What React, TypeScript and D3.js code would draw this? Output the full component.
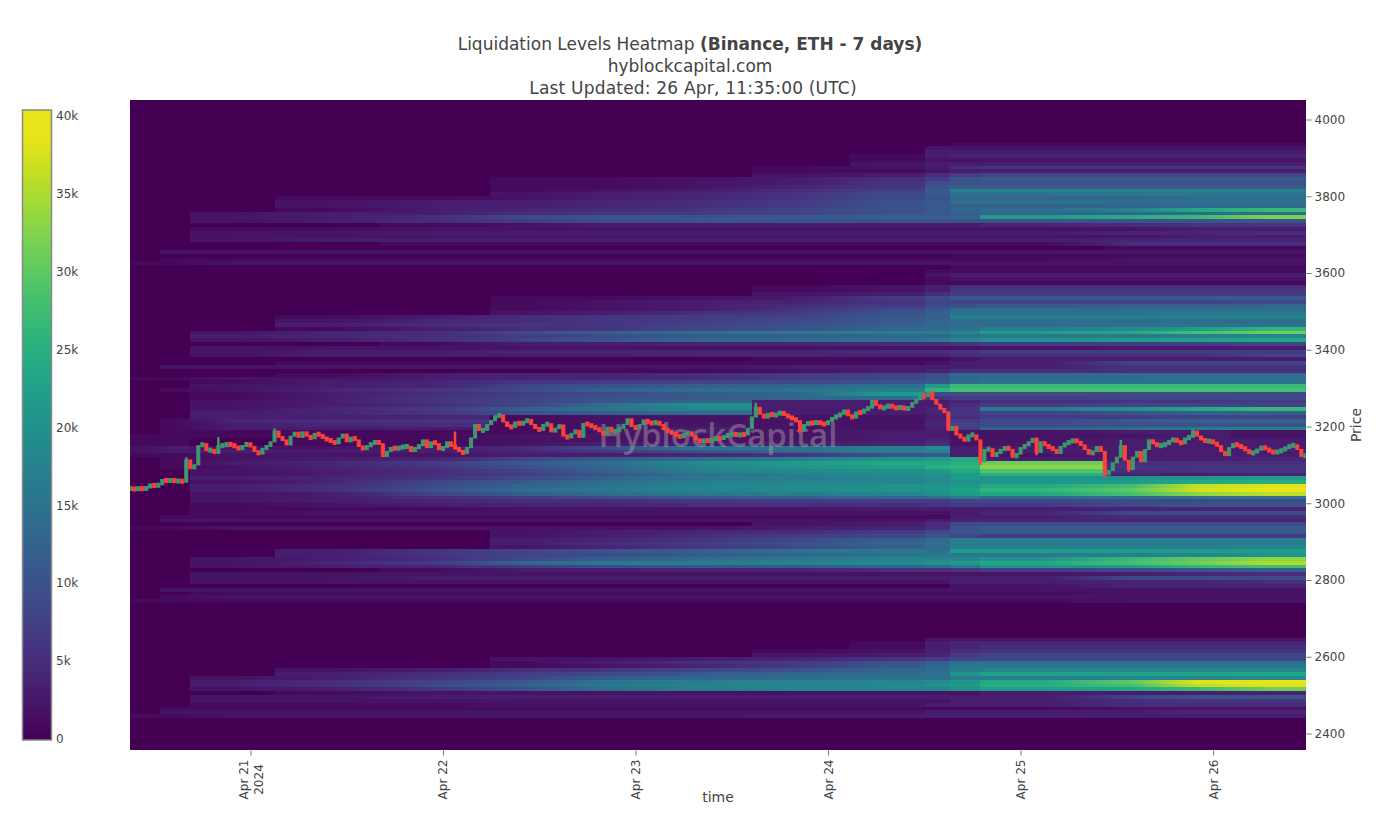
import React, { useEffect, useRef } from 'react'
import * as d3 from 'd3'

// heatmap column edges, the last one is the end of the chart
const timeEdges = [
  '2024-04-20T08:59Z', '2024-04-20T12:43Z', '2024-04-20T16:28Z', '2024-04-21T03:03Z',
  '2024-04-21T16:09Z', '2024-04-22T05:52Z', '2024-04-22T14:35Z', '2024-04-23T00:34Z',
  '2024-04-23T14:32Z', '2024-04-24T02:45Z', '2024-04-24T12:06Z', '2024-04-24T15:14Z',
  '2024-04-24T18:58Z', '2024-04-25T10:30Z', '2024-04-25T17:24Z', '2024-04-26T02:06Z',
  '2024-04-26T11:35Z',
]

const binSize = 10 // USD per heatmap row

// liquidation values in thousands, one row per price bin, going down from the first price
const farAboveStart = 3930
const farAbove = [
  [0,0,0,0,0,0,0,0,0,0,0,1,1,1,1,1],
  [0,0,0,0,0,0,0,0,0,0,2,2,2,2,2,2],
  [0,0,0,0,0,0,0,0,0,0,3,3,3,3,3,3],
  [0,0,0,0,0,0,0,0,0,1,3,4,4,4,4,4],
  [0,0,0,0,0,0,0,0,0,1,2,2,2,2,2,2],
  [0,0,0,0,0,0,0,0,0,2,3,3,3,3,3,3],
  [0,0,0,0,0,0,0,0,1,2,3,5,6,6,6,6],
  [0,0,0,0,0,0,0,0,1,1,2,3,3,3,3,3],
  [0,0,0,0,0,0,0,0,2,3,5,7,8,8,8,8],
  [0,0,0,0,0,1,1,2,3,5,7,10,11,11,11,11],
  [0,0,0,0,0,1,1,2,3,6,9,10,10,10,10,10],
  [0,0,0,0,0,1,1,2,4,6,10,11,11,11,11,11],
  [0,0,0,0,0,1,2,3,5,8,11,17,17,17,17,17],
  [0,0,0,0,0,2,3,4,6,9,11,15,15,16,16,16],
  [0,0,0,1,1,2,3,4,6,9,10,13,13,13,14,14],
  [0,0,0,2,3,3,4,5,7,10,11,14,15,14,15,15],
  [0,0,0,2,3,3,4,5,7,10,11,12,12,13,13,14],
  [0,0,0,1,3,4,5,6,8,10,11,13,14,18,24,27],
  [0,0,2,3,3,5,6,7,8,10,11,12,13,13,14,14],
  [0,0,2,3,5,9,10,10,11,12,12,13,22,25,27,32],
  [0,0,2,3,5,7,9,10,10,10,10,10,10,10,10,10],
  [0,0,0,0,1,2,3,3,3,3,3,3,4,5,6,6],
  [0,0,1,1,2,2,2,2,2,2,2,2,2,2,3,3],
  [0,0,2,2,3,3,3,3,3,3,3,3,3,4,4,5],
  [0,0,2,2,2,2,2,2,2,2,2,2,2,2,3,3],
  [0,0,2,3,3,3,3,3,3,3,3,3,3,4,4,4],
  [0,0,0,0,1,1,1,1,1,1,1,1,1,5,5,5],
  [0,0,0,0,0,0,0,0,0,0,0,0,0,1,1,1],
  [0,2,2,2,2,2,2,2,2,2,2,2,2,2,2,2],
  [0,0,0,0,0,0,0,0,0,0,0,1,1,1,1,1],
]

const nearAboveStart = 3630
const nearAbove = [
  [0,1,1,1,1,1,1,1,1,1,1,1,1,2,2,2],
  [1,1,2,2,2,2,2,2,2,2,2,2,2,2,2,2],
  [0,0,0,0,0,0,0,0,0,0,0,1,1,1,1,1],
  [0,0,0,0,0,0,0,0,0,0,1,1,1,1,1,1],
  [0,0,0,0,0,0,0,0,0,0,2,3,3,3,3,3],
  [0,0,0,0,0,0,0,0,0,0,1,2,2,2,2,2],
  [0,0,0,0,0,0,0,0,0,0,1,1,1,1,1,1],
  [0,0,0,0,0,0,0,0,1,2,3,5,5,5,5,5],
  [0,0,0,0,0,0,0,0,1,2,3,6,6,6,6,6],
  [0,0,0,0,0,0,0,0,2,3,5,7,7,7,7,7],
  [0,0,0,0,0,1,1,2,3,7,9,11,11,11,11,11],
  [0,0,0,0,0,1,2,3,4,6,8,8,8,8,8,9],
  [0,0,0,0,0,1,2,3,5,7,9,10,11,12,12,13],
  [0,0,0,0,0,1,2,3,6,9,11,14,14,14,14,14],
  [0,0,0,0,0,2,3,5,7,10,12,15,15,15,16,16],
  [0,0,0,1,3,5,6,7,8,11,12,17,17,17,17,18],
  [0,0,0,2,4,5,6,7,9,11,13,14,14,14,14,14],
  [0,0,0,3,5,6,6,8,10,12,13,14,14,15,15,15],
  [0,0,0,1,3,5,6,8,10,13,14,15,17,19,22,26],
  [0,0,2,4,5,9,12,15,16,17,17,18,22,24,28,31],
  [0,0,3,4,5,7,9,11,12,13,13,15,16,16,17,18],
  [0,0,2,3,5,8,10,13,14,15,16,18,20,22,23,24],
  [0,0,0,0,1,3,3,4,4,5,5,6,7,7,7,8],
  [0,0,2,2,2,2,2,2,2,2,2,2,2,3,3,3],
  [0,0,2,3,3,4,4,4,4,5,5,6,7,7,7,7],
  [0,0,2,3,3,3,3,4,4,4,4,5,5,5,5,8],
  [0,0,0,0,0,0,0,0,1,1,1,2,3,3,3,3],
  [0,0,0,1,1,1,1,1,1,1,2,3,3,8,8,8],
  [0,2,2,2,2,2,2,2,3,3,3,3,3,6,6,6],
  [0,0,0,0,0,0,1,1,2,3,4,5,5,5,5,5],
  [0,0,0,1,3,4,4,5,7,8,10,14,14,14,14,14],
  [1,1,2,2,3,4,4,5,7,8,10,13,14,14,15,15],
  [0,0,1,3,4,6,7,8,9,10,11,14,15,15,15,15],
]

const aroundPriceStart = 3300
const aroundPrice = [
  [0,0,2,3,4,8,10,12,13,15,22,27,27,27,27,27],
  [0,1,2,4,6,9,12,14,15,17,26,28,28,28,28,28],
  [0,0,1,3,5,7,9,11,13,22,9,9,9,9,9,9],
  [0,0,1,3,6,8,10,11,13,14,6,7,7,8,8,9],
  [0,0,2,3,6,8,10,13,3,3,3,4,5,6,6,7],
  [0,0,2,3,5,8,14,20,3,3,3,5,7,8,8,8],
  [0,0,2,4,7,12,15,18,3,3,4,6,16,20,24,27],
  [0,0,3,4,6,10,12,14,3,3,4,6,8,10,12,12],
  [0,0,3,3,4,1,2,2,2,2,3,5,7,7,8,8],
  [0,1,4,5,6,1,2,2,2,2,4,7,9,11,12,12],
  [0,1,3,4,5,1,2,2,2,2,4,8,9,10,10,10],
  [0,1,3,3,3,1,2,3,2,2,3,7,12,14,16,17],
  [0,1,1,1,1,1,2,3,2,3,3,2,2,3,3,2],
  [1,1,1,1,1,2,2,2,2,3,3,2,2,2,3,2],
  [1,1,0,1,1,2,2,2,2,3,4,2,2,3,3,3],
  [1,1,0,1,1,2,3,3,3,4,5,2,2,3,3,3],
  [2,3,2,2,3,5,9,15,15,17,19,3,3,3,3,3],
  [2,3,3,3,3,4,6,10,14,17,18,3,3,3,3,3],
  [1,1,2,2,2,3,3,4,6,10,11,3,2,3,3,3],
  [0,1,2,3,4,8,11,14,17,20,22,24,3,3,3,4],
  [0,1,3,4,7,11,14,19,22,24,24,25,31,5,5,5],
  [0,1,2,4,6,10,13,18,21,23,25,26,33,6,6,6],
  [0,0,2,3,5,8,12,17,19,20,22,24,29,5,6,6],
  [0,0,2,3,5,7,10,15,17,19,20,22,25,4,3,4],
  [0,0,3,4,6,9,12,16,17,18,19,22,20,20,21,22],
  [0,0,2,4,8,11,14,17,18,18,19,20,21,22,24,25],
  [0,0,3,5,9,13,15,18,19,20,21,22,24,28,36,38],
  [0,0,3,5,10,14,16,18,19,20,21,23,26,30,37,39],
  [0,0,2,3,8,12,14,16,17,18,20,22,24,28,33,36],
  [0,0,2,3,5,7,9,11,12,13,14,16,14,14,14,15],
  [0,0,2,3,4,5,5,6,7,7,7,8,8,9,9,9],
]

const nearBelowStart = 2990
const nearBelow = [
  [0,0,1,2,3,4,4,5,5,5,6,7,7,9,10,10],
  [0,0,1,1,1,2,2,2,2,3,3,3,3,4,4,4],
  [0,0,1,2,2,2,2,2,2,2,2,3,4,9,9,9],
  [0,1,1,1,1,1,1,1,1,1,1,3,3,5,5,5],
  [0,2,2,2,2,2,2,2,2,2,3,4,4,4,4,4],
  [0,0,0,0,0,0,0,0,2,3,5,9,9,9,9,9],
  [1,1,2,2,2,2,2,2,3,4,5,10,11,11,11,11],
  [0,0,0,0,0,2,3,4,5,7,9,10,11,11,11,11],
  [0,0,0,0,0,2,3,5,7,9,10,8,7,7,7,7],
  [0,0,0,0,0,3,4,6,9,12,14,17,17,17,17,17],
  [0,0,0,0,0,3,5,7,10,13,15,17,17,17,17,17],
  [0,0,0,0,0,2,4,6,9,12,14,17,17,17,17,18],
  [0,0,0,3,6,8,10,12,15,16,15,22,22,22,22,22],
  [0,0,0,3,6,8,9,11,13,15,16,16,16,17,18,20],
  [0,0,2,3,5,9,12,14,16,18,18,18,20,27,30,33],
  [0,0,2,4,7,13,16,17,18,19,20,22,24,28,31,35],
  [0,0,2,3,4,7,9,10,11,13,14,16,20,22,26,28],
  [0,0,0,0,1,3,3,4,4,5,5,6,7,9,10,12],
  [0,0,2,2,2,2,2,2,2,2,2,2,2,3,4,5],
  [0,0,2,2,3,3,3,3,3,3,3,3,3,9,9,9],
  [0,0,2,2,2,2,2,2,2,2,2,3,3,4,4,5],
  [0,0,0,0,0,0,0,0,0,0,0,2,2,4,4,4],
  [0,2,2,2,2,2,2,2,2,2,2,2,2,2,2,2],
  [0,0,1,1,1,1,1,1,1,1,1,1,1,2,2,2],
  [0,1,2,2,2,2,2,2,2,2,2,2,2,2,2,2],
  [1,1,1,1,1,1,1,1,1,1,1,1,1,2,2,2],
]

const farBelowStart = 2640
const farBelow = [
  [0,0,0,0,0,0,0,0,0,0,2,2,2,2,2,2],
  [0,0,0,0,0,0,0,0,0,1,3,4,4,4,4,4],
  [0,0,0,0,0,0,0,0,0,1,3,4,5,5,5,5],
  [0,0,0,0,0,0,0,0,1,2,3,5,6,6,6,6],
  [0,0,0,0,0,0,0,0,2,3,4,7,8,8,8,8],
  [0,0,0,0,0,2,2,3,4,6,7,8,8,8,8,8],
  [0,0,0,0,0,1,3,5,7,10,12,15,15,15,15,15],
  [0,0,0,0,0,1,2,4,7,11,13,16,16,16,16,16],
  [0,0,0,2,3,5,6,8,10,13,14,17,18,18,18,18],
  [0,0,0,3,5,7,9,11,13,14,15,20,23,23,23,24],
  [0,0,2,3,6,8,11,13,14,15,15,17,17,18,18,19],
  [0,0,3,5,8,11,15,17,18,18,19,21,24,30,38,39],
  [0,0,3,5,9,12,16,18,18,19,20,22,25,28,36,38],
  [0,0,2,3,6,10,14,17,18,18,18,20,22,24,27,31],
  [0,0,0,1,2,2,2,2,2,2,2,2,3,3,3,4],
  [0,0,2,2,3,3,3,3,3,3,3,3,3,8,10,10],
  [0,0,2,2,2,2,2,2,2,2,2,3,3,5,6,6],
  [0,0,1,1,1,2,2,2,2,2,3,3,3,5,5,5],
  [0,1,1,1,1,1,1,1,1,1,1,1,1,2,2,2],
  [0,2,2,2,2,2,2,2,2,2,3,3,3,3,4,4],
  [1,1,2,2,2,2,2,2,3,3,3,3,3,3,3,3],
]

// half hour candles, closes only, each one opens on the previous close
const candleStart = '2024-04-20T09:00Z'
const closesFirst = [
  3040,3034,3042,3034,3043,3047,3046,3048,3062,3057,3062,3056,3060,3055,3113,3090,3100,3150,3155,3137,3140,3130,3150,3150,3155,
  3152,3148,3140,3150,3156,3148,3135,3128,3143,3148,3160,3188,3172,3165,3152,3175,3185,3172,3186,3175,3168,3182,3178,3170,3165,
  3162,3155,3170,3180,3160,3172,3165,3148,3140,3150,3155,3162,3155,3122,3135,3145,3142,3145,3148,3148,3135,3145,3150,3165,3145,
  3160,3155,3140,3145,3160,3148,3145,3135,3130,3145,3170,3205,3190,3190,3205,3215,3228,3230,3212,3200,3198,3212,3205,3212,3218,
  3205,3195,3190,3205,3207,
]
const closesMiddle = [
  3186,3195,3204,3175,3170,3182,3190,3172,3208,3205,3199,3195,3188,3178,3198,3185,3190,3196,3205,3220,3200,3195,3205,3217,3210,
  3208,3212,3205,3192,3188,3182,3176,3172,3180,3186,3175,3165,3160,3165,3162,3166,3170,3168,3175,3178,3182,3176,3180,3178,3195,
  3225,3250,3232,3222,3234,3228,3232,3238,3230,3225,3220,3215,3188,3205,3210,3208,3212,3208,3205,3215,3222,3228,3232,3243,3228,
  3222,3238,3235,3245,3248,3268,3255,3247,3250,3256,3250,3247,3252,3244,3250,3262,3270,3280,3278,3290,3270,3258,3245,3238,3190,
  3200,3178,3172,3162,3178,
]
const closesLast = [
  3178,3165,3108,3140,3142,3122,3132,3138,3147,3140,3120,3128,3145,3150,3160,3168,3132,3160,3150,3146,3140,3130,3148,3156,3160,
  3165,3160,3152,3140,3128,3135,3148,3135,3074,3085,3105,3120,3150,3112,3088,3120,3135,3108,3140,3165,3155,3150,3150,3155,3162,
  3168,3160,3155,3170,3172,3188,3175,3165,3162,3162,3158,3150,3135,3124,3145,3155,3150,3146,3138,3130,3132,3140,3147,3142,3135,
  3132,3135,3138,3145,3150,3152,3140,3122,3125,
]
// candles whose wick sticks out: [index, high, low]
const wicks = [
  [14,3120,3055],[22,3172,3130],[36,3195,3160],[81,3187,3145],[156,3262,3225],[167,3215,3182],
  [212,3165,3100],[226,3172,3125],[243,3135,3068],[247,3165,3120],[249,3112,3082],[265,3192,3172],
]

const priceTicks = [2400, 2600, 2800, 3000, 3200, 3400, 3600, 3800, 4000]
const dayTicks = ['2024-04-21', '2024-04-22', '2024-04-23', '2024-04-24', '2024-04-25', '2024-04-26']
const colorTicks = [0, 5000, 10000, 15000, 20000, 25000, 30000, 35000, 40000]

const textColor = '#444'
const fontFamily = '"DejaVu Sans", Verdana, sans-serif'
const sharpColumns = [10, 11, 12] // the levels jump at these columns

function heatColor(v: number) {
  return d3.interpolateViridis(Math.min(v / 40000, 0.965))
}

export default function App() {
  const ref = useRef<SVGSVGElement>(null)

  useEffect(() => {
    const svg = d3.select(ref.current)
    svg.selectAll('*').remove()

    const x = d3.scaleUtc()
      .domain([new Date(timeEdges[0]), new Date(timeEdges[timeEdges.length - 1])])
      .range([130, 1306])
    const y = d3.scaleLinear().domain([2400, 4000]).range([733.5, 119.5])

    svg.append('clipPath').attr('id', 'plot-clip')
      .append('rect').attr('x', 130).attr('y', 100).attr('width', 1176).attr('height', 650)

    const plot = svg.append('g').attr('clip-path', 'url(#plot-clip)')
    plot.append('rect')
      .attr('x', 130).attr('y', 100).attr('width', 1176).attr('height', 650)
      .attr('fill', heatColor(0))

    // heatmap rows, one gradient per row so it reads smooth like the original
    const bands: [number, number[][]][] = [
      [farAboveStart, farAbove],
      [nearAboveStart, nearAbove],
      [aroundPriceStart, aroundPrice],
      [nearBelowStart, nearBelow],
      [farBelowStart, farBelow],
    ]
    const edgeX = timeEdges.map(t => x(new Date(t)))
    const defs = svg.append('defs')
    const heat = plot.append('g').attr('shape-rendering', 'crispEdges')
    bands.forEach(([start, rows], b) => {
      rows.forEach((row, r) => {
        const id = `row-${b}-${r}`
        const price = start - r * binSize
        const grad = defs.append('linearGradient').attr('id', id)
          .attr('gradientUnits', 'userSpaceOnUse')
          .attr('x1', 130).attr('x2', 1306).attr('y1', 0).attr('y2', 0)
        const addStop = (px: number, k: number) => {
          grad.append('stop')
            .attr('offset', (px - 130) / 1176)
            .attr('stop-color', heatColor(k * 1000))
        }
        row.forEach((k, col) => {
          const prev = col === 0 ? k : row[col - 1]
          const sharp = sharpColumns.includes(col) || k < prev || prev === 0
          if (sharp) {
            addStop(edgeX[col], prev)
            addStop(edgeX[col], k)
          }
          addStop((edgeX[col] + edgeX[col + 1]) / 2, k)
        })
        addStop(1306, row[row.length - 1])
        heat.append('rect')
          .attr('x', 130).attr('width', 1176)
          .attr('y', y(price + binSize))
          .attr('height', y(price) - y(price + binSize))
          .attr('fill', `url(#${id})`)
      })
    })

    // watermark
    plot.append('text')
      .attr('x', 718).attr('y', 447)
      .attr('text-anchor', 'middle')
      .attr('font-family', '"Open Sans", sans-serif')
      .attr('font-weight', 600)
      .attr('font-size', 33)
      .attr('fill', '#b4b4b4')
      .attr('opacity', 0.4)
      .text('HyblockCapital')

    // candles
    const closes = [...closesFirst, ...closesMiddle, ...closesLast]
    const wickByIndex = new Map(wicks.map(w => [w[0], w]))
    const t0 = new Date(candleStart).getTime()
    const candleTime = (i: number) => new Date(t0 + i * 30 * 60 * 1000)
    const candleStep = x(candleTime(1)) - x(candleTime(0))
    const candles = closes.map((close, i) => ({
      i,
      open: i === 0 ? close - 3 : closes[i - 1],
      close,
      wick: wickByIndex.get(i),
    }))
    const candleColor = (d: { open: number; close: number }) => d.close >= d.open ? '#3d9970' : '#ff4136'
    const candleG = plot.append('g').selectAll('g').data(candles).enter().append('g')
    candleG.filter(d => !!d.wick).append('line')
      .attr('x1', d => x(candleTime(d.i))).attr('x2', d => x(candleTime(d.i)))
      .attr('y1', d => y(d.wick![1])).attr('y2', d => y(d.wick![2]))
      .attr('stroke', candleColor).attr('stroke-width', 2.5)
    const bodyHeight = (d: { open: number; close: number }) => Math.max(4, Math.abs(y(d.open) - y(d.close)))
    candleG.append('rect')
      .attr('x', d => x(candleTime(d.i)) - candleStep / 2 + 0.5)
      .attr('width', candleStep - 1)
      .attr('y', d => (y(d.open) + y(d.close)) / 2 - bodyHeight(d) / 2)
      .attr('height', bodyHeight)
      .attr('fill', candleColor)
      .attr('stroke', candleColor)
      .attr('stroke-width', 1)

    // price axis
    const yAxis = svg.append('g')
      .attr('transform', 'translate(1306.5,0)')
      .call(d3.axisRight(y).tickValues(priceTicks).tickSize(5).tickPadding(3).tickFormat(d3.format('d')))
    yAxis.select('.domain').remove()
    yAxis.selectAll('line').attr('stroke', '#777')
    yAxis.selectAll('text').attr('font-family', fontFamily).attr('font-size', 12).attr('fill', textColor)

    // time axis
    const xAxis = svg.append('g')
      .attr('transform', 'translate(0,750.5)')
      .call(d3.axisBottom(x)
        .tickValues(dayTicks.map(d => new Date(d + 'T00:00Z')))
        .tickSize(5)
        .tickFormat(d3.utcFormat('%b %d') as any))
    xAxis.select('.domain').remove()
    xAxis.selectAll('line').attr('stroke', '#777')
    xAxis.selectAll('text').each(function (_d, i) {
      const label = d3.select(this)
      const text = label.text()
      label.text(null)
        .attr('transform', 'translate(0,29) rotate(-90)')
        .attr('text-anchor', 'middle')
        .attr('y', 0).attr('dy', null)
        .attr('font-family', fontFamily).attr('font-size', 12).attr('fill', textColor)
      if (i === 0) {
        label.append('tspan').attr('x', 0).attr('y', -3).text(text)
        label.append('tspan').attr('x', 0).attr('y', 12).text('2024')
      } else {
        label.append('tspan').attr('x', 0).attr('y', 4).text(text)
      }
    })

    svg.append('text')
      .attr('x', 718).attr('y', 802)
      .attr('text-anchor', 'middle')
      .attr('font-family', fontFamily).attr('font-size', 14).attr('fill', textColor)
      .text('time')
    svg.append('text')
      .attr('transform', 'translate(1361,425) rotate(-90)')
      .attr('text-anchor', 'middle')
      .attr('font-family', fontFamily).attr('font-size', 14).attr('fill', textColor)
      .text('Price')

    // colour bar
    const colorY = d3.scaleLinear().domain([0, 40000]).range([739, 116])
    const barTop = colorY.invert(110)
    const barGrad = defs.append('linearGradient').attr('id', 'bar-grad')
      .attr('x1', 0).attr('y1', 1).attr('x2', 0).attr('y2', 0)
    d3.range(0, 21).forEach(i => {
      barGrad.append('stop')
        .attr('offset', i / 20)
        .attr('stop-color', heatColor(barTop * i / 20))
    })
    svg.append('rect')
      .attr('x', 22.5).attr('y', 110).attr('width', 29).attr('height', 630)
      .attr('fill', 'url(#bar-grad)')
      .attr('stroke', '#888').attr('stroke-width', 1.5)
    svg.append('g').selectAll('text').data(colorTicks).enter().append('text')
      .attr('x', 56)
      .attr('y', d => colorY(d))
      .attr('dy', '0.35em')
      .attr('font-family', fontFamily).attr('font-size', 12).attr('fill', textColor)
      .text(d => d === 0 ? '0' : d / 1000 + 'k')

    // title
    const title = svg.append('g')
      .attr('text-anchor', 'middle')
      .attr('font-family', fontFamily).attr('font-size', 17).attr('fill', textColor)
    const first = title.append('text').attr('x', 690).attr('y', 50)
    first.append('tspan').text('Liquidation Levels Heatmap ')
    first.append('tspan').attr('font-weight', 'bold').text('(Binance, ETH - 7 days)')
    title.append('text').attr('x', 690).attr('y', 72).text('hyblockcapital.com')
    title.append('text').attr('x', 693).attr('y', 94).attr('letter-spacing', 0.2).text('Last Updated: 26 Apr, 11:35:00 (UTC)')
  }, [])

  return (
    <svg
      ref={ref}
      width={1386}
      height={829}
      style={{ position: 'absolute', left: 0, top: 0, display: 'block', background: '#fff' }}
    />
  )
}
